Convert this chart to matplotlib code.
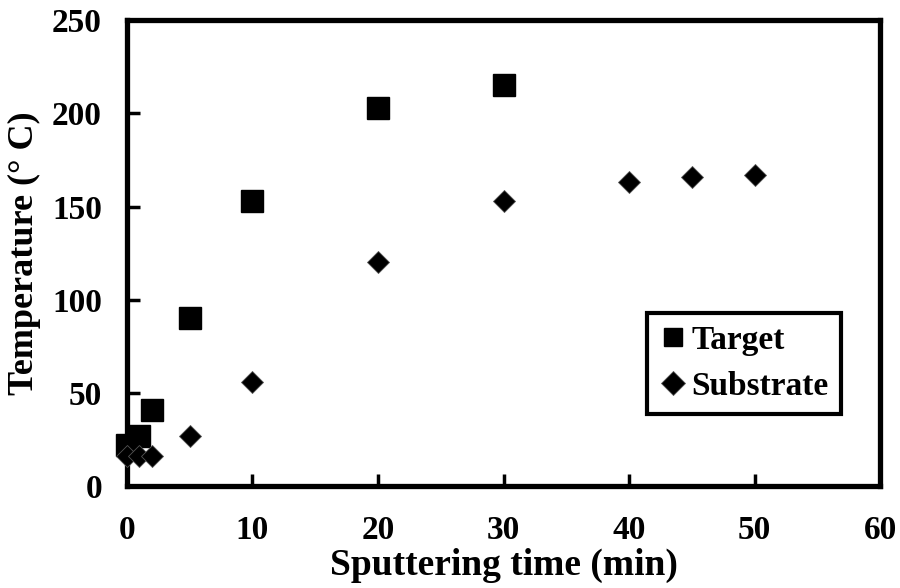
import numpy as np
import matplotlib
matplotlib.use('Agg')
import matplotlib.pyplot as plt

plt.rcParams['font.family'] = ['Liberation Serif', 'DejaVu Serif']
plt.rcParams['font.weight'] = 'bold'

# sputtering time (min) and temperature (deg C)
t_target = [0, 1, 2, 5, 10, 20, 30]
temp_target = [22, 27, 41, 90, 153, 203, 215]

t_substrate = [0, 1, 2, 5, 10, 20, 30, 40, 45, 50]
temp_substrate = [16, 16, 16, 27, 56, 120, 153, 163, 166, 167]

x_ticks = [0, 10, 20, 30, 40, 50, 60]
y_ticks = [0, 50, 100, 150, 200, 250]

fig = plt.figure(figsize=(9, 5.88), dpi=100)
ax = fig.add_axes([0.141, 0.173, 0.837, 0.793])

ax.plot(t_target, temp_target, linestyle='none', marker='s', markersize=15.5,
        color='black', label='Target', clip_on=False, zorder=3)
ax.plot(t_substrate, temp_substrate, linestyle='none', marker='D', markersize=11,
        color='black', markeredgecolor='#555555', markeredgewidth=0.6,
        label='Substrate', clip_on=False, zorder=4)

ax.set_xlim(0, 60)
ax.set_ylim(0, 250)
ax.set_xticks(x_ticks)
ax.set_yticks(y_ticks)

for s in ax.spines.values():
    s.set_linewidth(3.8)

ax.tick_params(axis='x', direction='in', length=9, width=2.5, pad=21,
               labelsize=24, top=False)
ax.tick_params(axis='y', direction='in', length=9, width=2.5, pad=18,
               labelsize=24, right=False)
for lab in ax.get_xticklabels() + ax.get_yticklabels():
    lab.set_fontweight('bold')

ax.set_xlabel('Sputtering time (min)', fontsize=27, fontweight='bold', labelpad=1)
ax.set_ylabel('Temperature (° C)', fontsize=26, fontweight='bold', labelpad=8)

leg = ax.legend(loc='upper left', bbox_to_anchor=(0.69, 0.371),
                frameon=True, fancybox=False, framealpha=1, handletextpad=0.1,
                handlelength=0.9, borderpad=0.35, labelspacing=0.45,
                borderaxespad=0, markerscale=0.8,
                prop={'weight': 'bold', 'size': 24})
leg.get_frame().set_edgecolor('black')
leg.get_frame().set_linewidth(3)
leg.legend_handles[1].set_markersize(12.5)

fig.savefig('out.png', dpi=100)
